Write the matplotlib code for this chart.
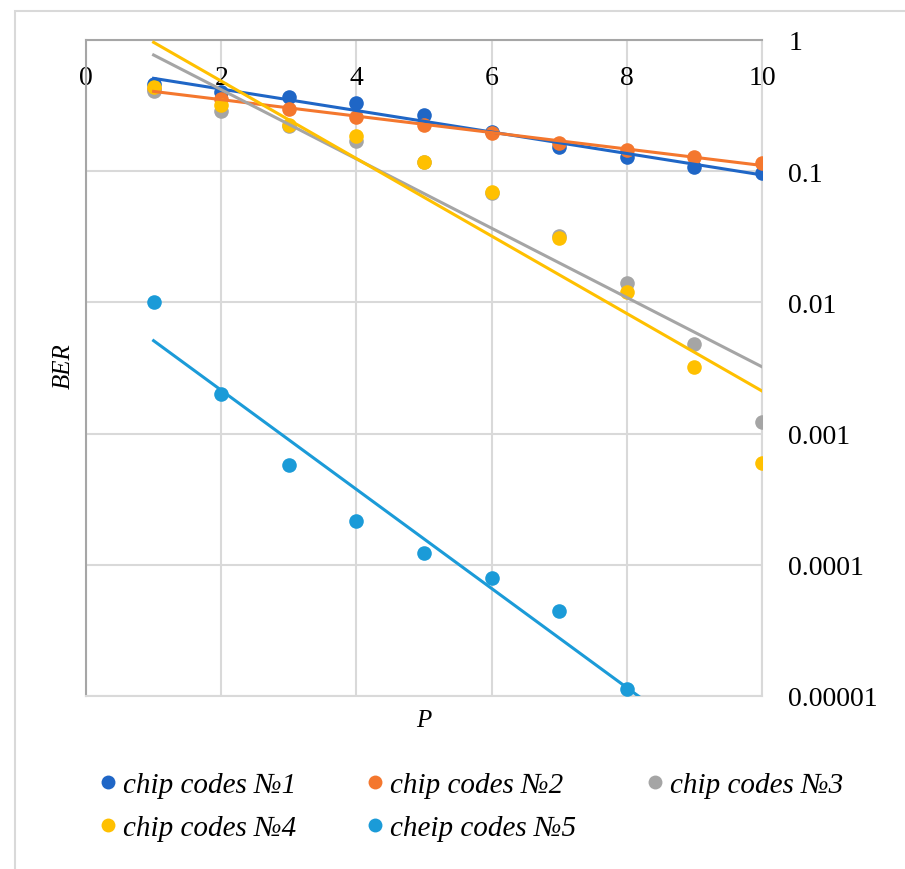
import numpy as np
import matplotlib
matplotlib.use("Agg")
import matplotlib.pyplot as plt
from matplotlib.lines import Line2D
from matplotlib.patches import Rectangle
from matplotlib.ticker import FixedLocator, FixedFormatter

# ---------------- data ----------------
P = [1, 2, 3, 4, 5, 6, 7, 8, 9, 10]
codes1 = [0.46, 0.40, 0.37, 0.33, 0.27, 0.20, 0.153, 0.128, 0.108, 0.097]
codes2 = [0.42, 0.355, 0.30, 0.26, 0.225, 0.195, 0.164, 0.145, 0.129, 0.116]
codes3 = [0.41, 0.29, 0.22, 0.17, 0.118, 0.068, 0.032, 0.014, 0.0048, 0.00123]
codes4 = [0.44, 0.32, 0.225, 0.186, 0.118, 0.069, 0.031, 0.012, 0.0032, 0.0006]
codes5 = [0.01, 0.002, 0.00058, 0.000216, 0.000123, 0.0000793, 0.0000445, 0.0000113]

labels = ["chip codes №1", "chip codes №2", "chip codes №3",
          "chip codes №4", "cheip codes №5"]
colors = ["#1F66C6", "#F4772E", "#A5A5A5", "#FFC000", "#1B9BD8"]

x_ticks = [0, 2, 4, 6, 8, 10]
y_ticks = [1, 0.1, 0.01, 0.001, 0.0001, 0.00001]
y_tick_labels = ["1", "0.1", "0.01", "0.001", "0.0001", "0.00001"]

series = [codes1, codes2, codes3, codes4, codes5]

# ---------------- figure ----------------
FONT = ["Liberation Serif", "DejaVu Serif"]
plt.rcParams["font.family"] = FONT

fig = plt.figure(figsize=(9.05, 8.7), dpi=100)
ax = fig.add_axes([86 / 905, 1 - 697 / 870, 676 / 905, 656 / 870])

ax.set_yscale("log")
ax.set_xlim(0, 10)
ax.set_ylim(1e-5, 1)

grid_c = "#D9D9D9"
axis_c = "#A6A6A6"

ax.xaxis.set_major_locator(FixedLocator(x_ticks))
ax.yaxis.set_major_locator(FixedLocator(y_ticks))
ax.yaxis.set_major_formatter(FixedFormatter(y_tick_labels))
ax.yaxis.set_minor_locator(FixedLocator([]))
ax.grid(True, which="major", color=grid_c, lw=1.5, zorder=0)
ax.set_axisbelow(True)

for s in ["right", "bottom"]:
    ax.spines[s].set_color(grid_c)
    ax.spines[s].set_linewidth(1.5)
for s in ["left", "top"]:
    ax.spines[s].set_color(axis_c)
    ax.spines[s].set_linewidth(1.5)

ax.tick_params(axis="x", which="both", length=0, labeltop=True, labelbottom=False,
               top=False, bottom=False, pad=-36, labelsize=20)
ax.tick_params(axis="y", which="both", length=0, labelright=True, labelleft=False,
               left=False, right=False, pad=19, labelsize=20)
for t in ax.get_yticklabels():
    t.set_horizontalalignment("left")

# markers
for vals, c in zip(series, colors):
    xs = P[:len(vals)]
    ax.plot(xs, vals, linestyle="none", marker="o", ms=10.5, color=c,
            markeredgewidth=0, zorder=3)

# exponential trendlines (least squares in log space)
xfit = np.linspace(P[0], P[-1], 200)
for vals, c in zip(series, colors):
    xs = np.array(P[:len(vals)], dtype=float)
    k, b = np.polyfit(xs, np.log10(vals), 1)
    ax.plot(xfit, 10 ** (k * xfit + b), color=c, lw=2.2, zorder=4)

ax.set_xlabel("P", fontsize=18, fontstyle="italic")
ax.set_ylabel("BER", fontsize=18, fontstyle="italic")
ax.xaxis.set_label_coords(0.5, -0.02)
ax.yaxis.set_label_coords(-0.016, 0.505)

# legend (row-major order in 3 columns)
handles = [Line2D([], [], linestyle="none", marker="o", ms=10, color=c,
                  markeredgewidth=0) for c in colors]
order = [0, 3, 1, 4, 2]
fig.legend([handles[i] for i in order], [labels[i] for i in order],
           ncol=3, loc="upper left", bbox_to_anchor=(99 / 905, 1 - 773 / 870),
           frameon=False, borderpad=0, borderaxespad=0,
           handlelength=0.6, handletextpad=0.22, columnspacing=2.4,
           labelspacing=0.56,
           prop={"family": FONT, "style": "italic", "size": 21})

# outer chart border (only left/top visible in the crop)
fig.add_artist(Rectangle((15 / 905, -0.2), 1.2, 1.2 - 12 / 870,
                         transform=fig.transFigure, fill=False,
                         ec="#D9D9D9", lw=1.5))

fig.savefig("out.png", dpi=100)
